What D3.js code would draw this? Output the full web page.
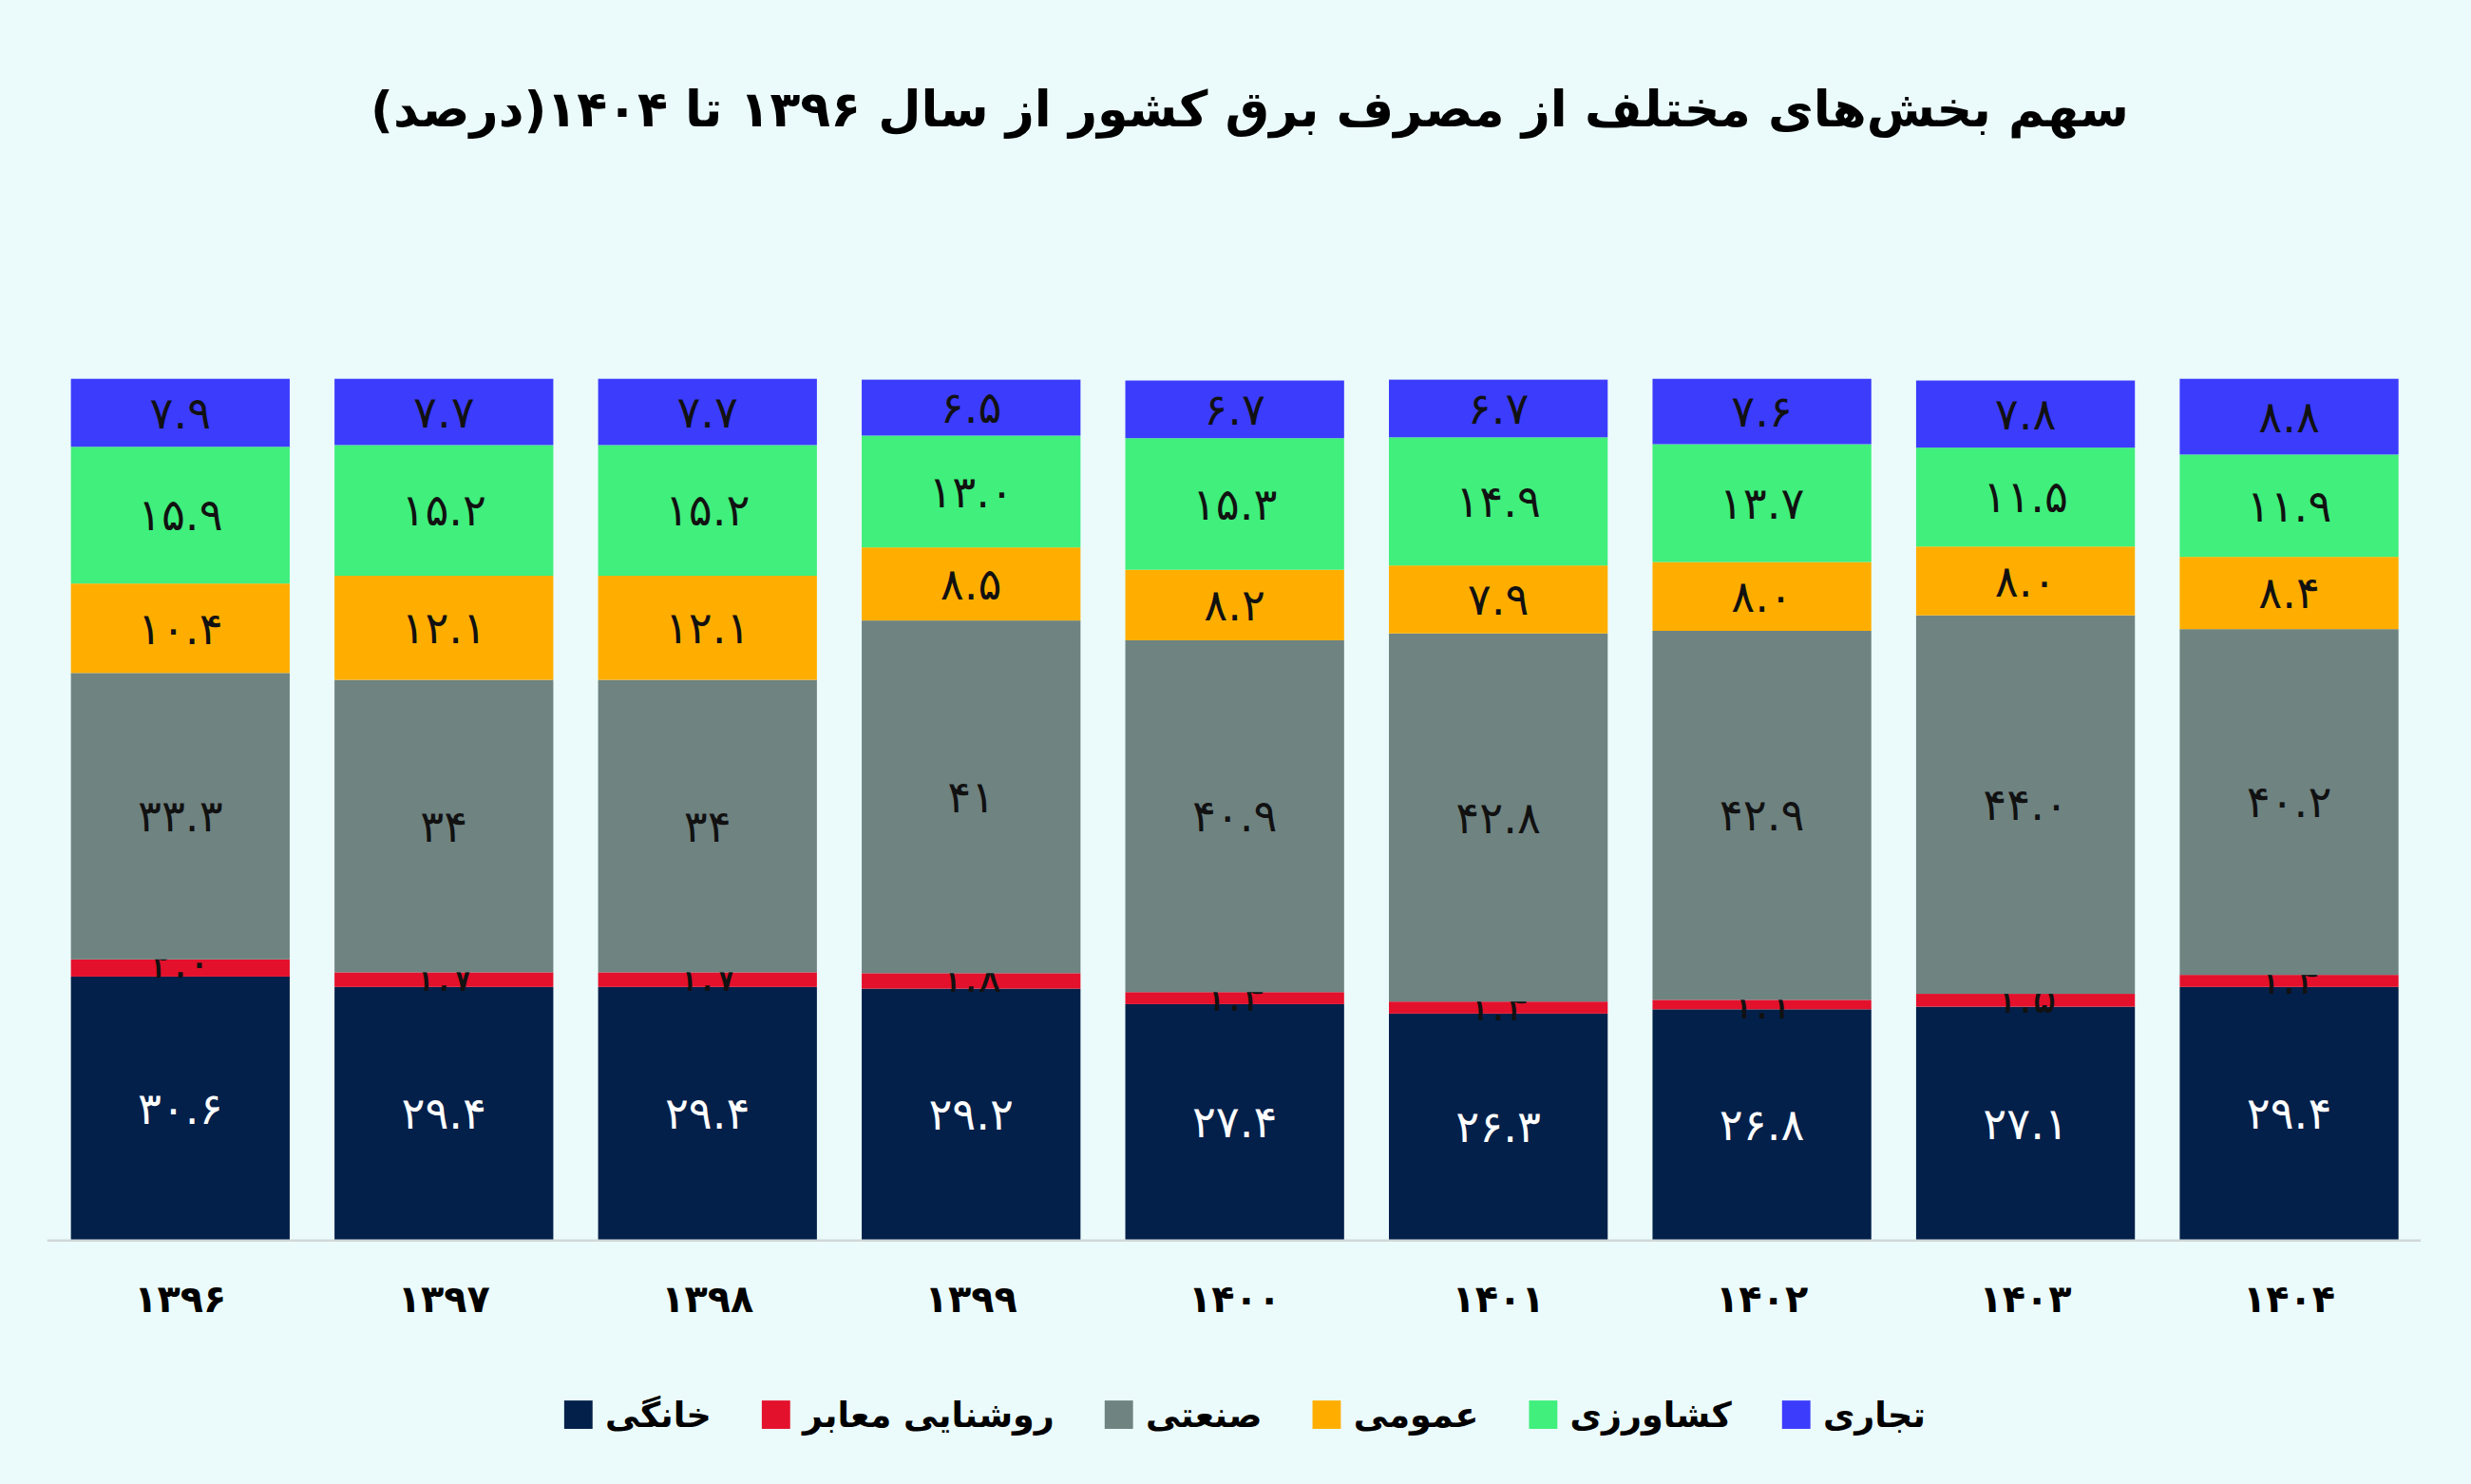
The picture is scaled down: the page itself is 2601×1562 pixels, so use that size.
<!DOCTYPE html>
<html><head><meta charset="utf-8">
<script src="https://cdn.jsdelivr.net/npm/d3@7"></script>
<style>
body{margin:0;background:#ebfbfb;}
svg{display:block;}
text{font-family:"DejaVu Sans","Noto Sans",sans-serif;}
</style></head><body>
<div id="chart"></div>
<script>
var years = ["1396","1397","1398","1399","1400","1401","1402","1403","1404"];
var sectors = ["خانگی","روشنایی معابر","صنعتی","عمومی","کشاورزی","تجاری"];
var colors = ["#03204a","#e3112c","#6f8381","#ffae00","#40ef7c","#3c3cfd"];
var household = ["30.6","29.4","29.4","29.2","27.4","26.3","26.8","27.1","29.4"];
var lighting  = ["2.0","1.7","1.7","1.8","1.4","1.4","1.1","1.5","1.4"];
var industry  = ["33.3","34","34","41","40.9","42.8","42.9","44.0","40.2"];
var publicUse = ["10.4","12.1","12.1","8.5","8.2","7.9","8.0","8.0","8.4"];
var farming   = ["15.9","15.2","15.2","13.0","15.3","14.9","13.7","11.5","11.9"];
var commerce  = ["7.9","7.7","7.7","6.5","6.7","6.7","7.6","7.8","8.8"];
var series = [household, lighting, industry, publicUse, farming, commerce];

var W = 1568, H = 942;
function fa(s){ return s.replace(/[0-9]/g, function(c){ return "۰۱۲۳۴۵۶۷۸۹"[+c]; }); }

var svg = d3.select("#chart").append("svg")
  .attr("width", 2601).attr("height", 1562)
  .attr("viewBox", "0 0 " + W + " " + H)
  .attr("preserveAspectRatio", "none");

var x = d3.scaleBand().domain(years).range([45, 1522]).paddingInner(0.17).paddingOuter(0);
var y = d3.scaleLinear().domain([0, 100]).range([787, 241]);

svg.append("text").attr("x", 793).attr("y", 80).attr("text-anchor", "middle")
  .attr("direction", "rtl").style("font-weight", "bold").style("font-size", "31.5px")
  .text("سهم بخش‌های مختلف از مصرف برق کشور از سال " + fa("1396") + " تا  " + fa("1404") + "(درصد)");

years.forEach(function (yr, i) {
  var base = 0;
  series.forEach(function (s, k) {
    var v = +s[i];
    var g = svg.append("g");
    g.append("rect").attr("x", x(yr)).attr("width", x.bandwidth())
      .attr("y", y(base + v)).attr("height", y(base) - y(base + v))
      .attr("fill", colors[k]);
    var cy = (y(base) + y(base + v)) / 2;
    if (k == 1) cy = y(base + v) + 2;
    g.append("text").attr("x", x(yr) + x.bandwidth() / 2).attr("y", cy)
      .attr("dy", "0.35em").attr("text-anchor", "middle")
      .style("font-size", "28px").style("fill", k == 0 ? "#fff" : "#111")
      .text(fa(s[i]));
    base += v;
  });
});

svg.append("line").attr("x1", 30).attr("x2", 1536).attr("y1", 787.5).attr("y2", 787.5)
  .attr("stroke", "#d0d8d8").attr("stroke-width", 1.5);

svg.selectAll(".xl").data(years).enter().append("text")
  .attr("x", function (d) { return x(d) + x.bandwidth() / 2; }).attr("y", 833)
  .attr("text-anchor", "middle").style("font-weight", "bold").style("font-size", "24px")
  .text(function (d) { return fa(d); });

// legend
var lg = svg.append("g");
var xpos = 0;
sectors.forEach(function (s, k) {
  var it = lg.append("g").attr("transform", "translate(" + xpos + ",0)");
  it.append("rect").attr("x", 0).attr("y", -9).attr("width", 18).attr("height", 18).attr("fill", colors[k]);
  var t = it.append("text").attr("x", 26).attr("y", 0).attr("dy", "0.35em")
    .style("font-weight", "bold").style("font-size", "22px").text(s);
  xpos += 26 + t.node().getComputedTextLength() + 32;
});
lg.attr("transform", "translate(" + (790 - (xpos - 32) / 2) + ",898)");
</script>
</body></html>
